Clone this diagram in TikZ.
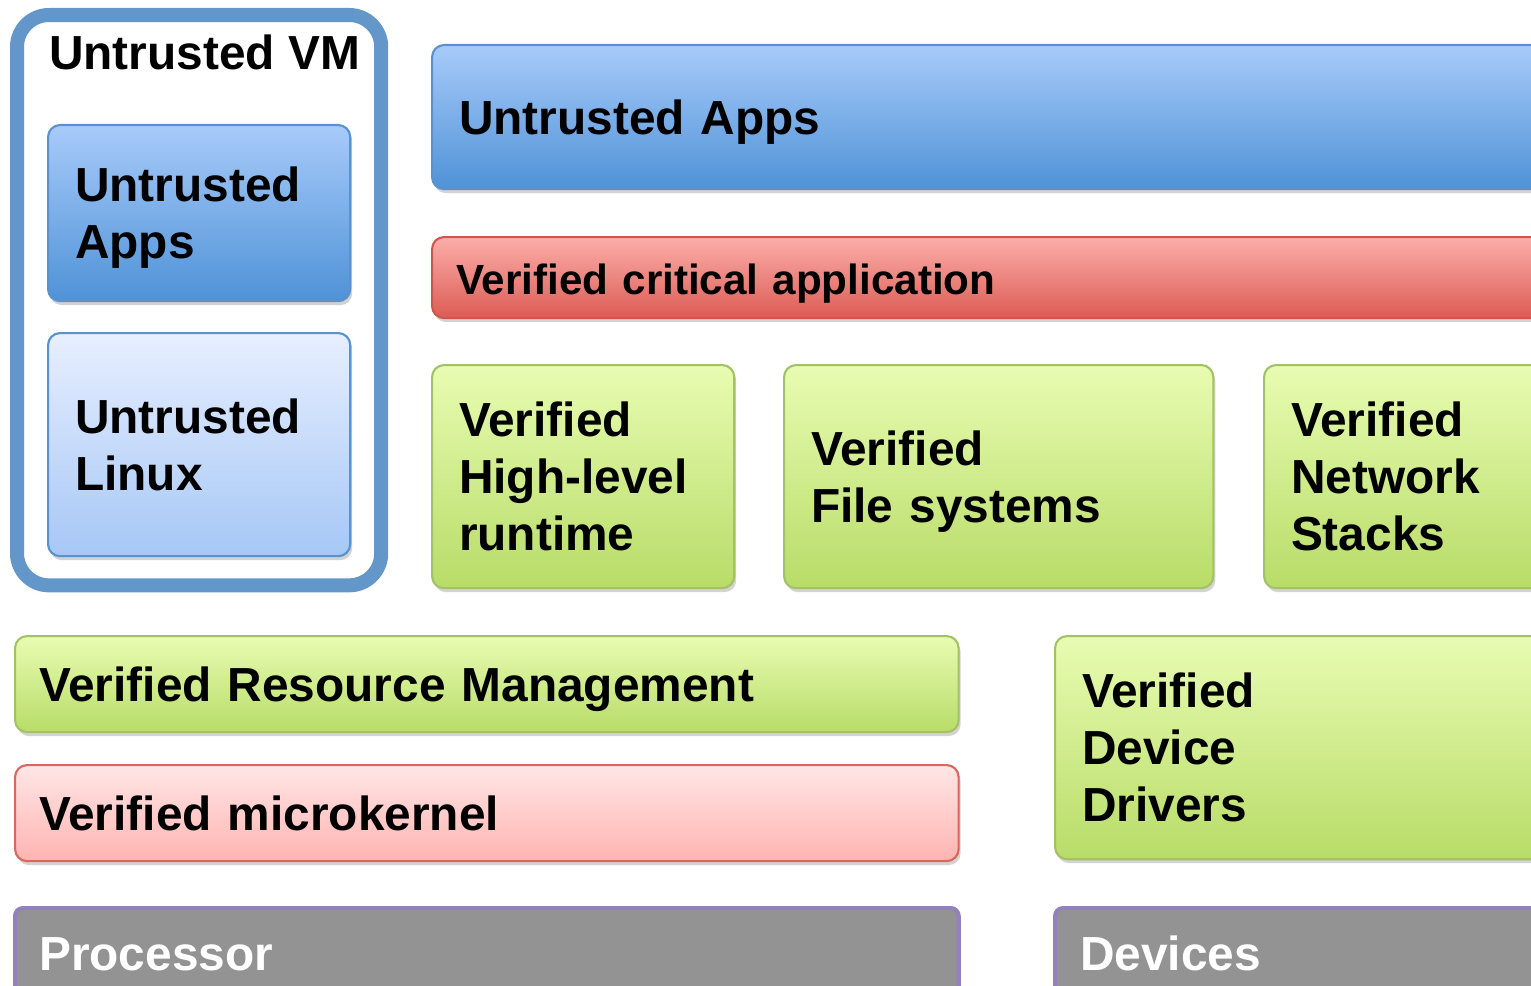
\documentclass[tikz,border=0pt]{standalone}
\usepackage{fontspec}
\setmainfont{Liberation Sans}
\usepackage{tikz}
\usetikzlibrary{shadows}

\definecolor{vmblue}{HTML}{6397CA}
\definecolor{appstop}{HTML}{A8CBFA}
\definecolor{appsbot}{HTML}{4F92D7}
\definecolor{appsline}{HTML}{5A92CF}
\definecolor{linuxtop}{HTML}{E7EFFF}
\definecolor{linuxbot}{HTML}{A6C7F6}
\definecolor{crittop}{HTML}{FCAEAA}
\definecolor{critbot}{HTML}{DC5C54}
\definecolor{critline}{HTML}{CF5650}
\definecolor{greentop}{HTML}{E8FCB2}
\definecolor{greenbot}{HTML}{B8DC68}
\definecolor{greenline}{HTML}{A3C265}
\definecolor{pinktop}{HTML}{FFE6E6}
\definecolor{pinkbot}{HTML}{FFB4B1}
\definecolor{pinkline}{HTML}{D9675F}
\definecolor{hwgray}{HTML}{939393}
\definecolor{hwline}{HTML}{9480BC}

\begin{document}
\begin{tikzpicture}[x=0.01cm, y=-0.01cm,
  every node/.style={anchor=north west, align=left, inner xsep=0.27cm,
    font=\fontsize{13.6}{16.2}\selectfont\bfseries, line width=0.6pt,
    execute at begin node={\rule{0pt}{0.44cm}},
    execute at end node={\rule[-0.1cm]{0pt}{0pt}}},
  box/.style={rectangle, rounded corners=0.12cm,
    drop shadow={shadow xshift=0.02cm, shadow yshift=-0.04cm, opacity=0.35}},
  appsbox/.style={box, draw=appsline, top color=appstop, bottom color=appsbot},
  linuxbox/.style={box, draw=appsline, top color=linuxtop, bottom color=linuxbot},
  critbox/.style={box, draw=critline, top color=crittop, bottom color=critbot},
  greenbox/.style={box, draw=greenline, top color=greentop, bottom color=greenbot},
  kernelbox/.style={box, draw=pinkline, top color=pinktop, bottom color=pinkbot},
  hwbox/.style={rectangle, rounded corners=0.08cm, draw=hwline, line width=1.2pt,
    fill=hwgray, text=white},
  vmbox/.style={rectangle, rounded corners=0.32cm, draw=vmblue, line width=0.14cm, fill=white}]

  \useasboundingbox (0,0) rectangle (1531,985);
  \clip (0,0) rectangle (1531,985);

  % untrusted VM
  \node[vmbox, minimum width=3.64cm, minimum height=5.70cm] (vm) at (10,8) {};
  \node[anchor=base west, inner xsep=0pt] (vmtitle) at (48,70) {Untrusted VM};
  \node[appsbox, minimum height=1.76cm, text width=2.48cm] (vmapps) at (47,124) {Untrusted\\Apps};
  \node[linuxbox, minimum height=2.23cm, text width=2.48cm] (vmlinux) at (47,332) {Untrusted\\Linux};

  % applications
  \node[appsbox, minimum height=1.44cm, text width=10.96cm] (apps) at (431,44) {Untrusted Apps};
  \node[critbox, minimum height=0.81cm, text width=11.02cm, inner xsep=0.24cm,
    font=\fontsize{12}{14.4}\selectfont\bfseries] (critapp) at (431,236) {Verified critical application};

  % verified services
  \node[greenbox, minimum height=2.23cm, text width=2.48cm] (runtime) at (431,364) {Verified\\High-level\\runtime};
  \node[greenbox, minimum height=2.23cm, text width=3.75cm] (filesys) at (783,364) {Verified\\File systems};
  \node[greenbox, minimum height=2.23cm, text width=2.66cm] (netstack) at (1263,364) {Verified\\Network\\Stacks};

  % kernel layer
  \node[greenbox, minimum height=0.96cm, text width=8.95cm, inner xsep=0.24cm] (resmgmt) at (14,635) {Verified Resource Management};
  \node[kernelbox, minimum height=0.96cm, text width=8.95cm, inner xsep=0.24cm] (ukernel) at (14,764) {Verified microkernel};
  \node[greenbox, minimum height=2.23cm, text width=4.46cm] (drivers) at (1054,635) {Verified\\Device\\Drivers};

  % hardware
  \node[hwbox, minimum height=0.90cm, text width=8.95cm, inner xsep=0.24cm] (cpu) at (13,906) {Processor};
  \node[hwbox, minimum height=0.90cm, text width=4.50cm, inner xsep=0.25cm] (devs) at (1053,906) {Devices};
\end{tikzpicture}
\end{document}
